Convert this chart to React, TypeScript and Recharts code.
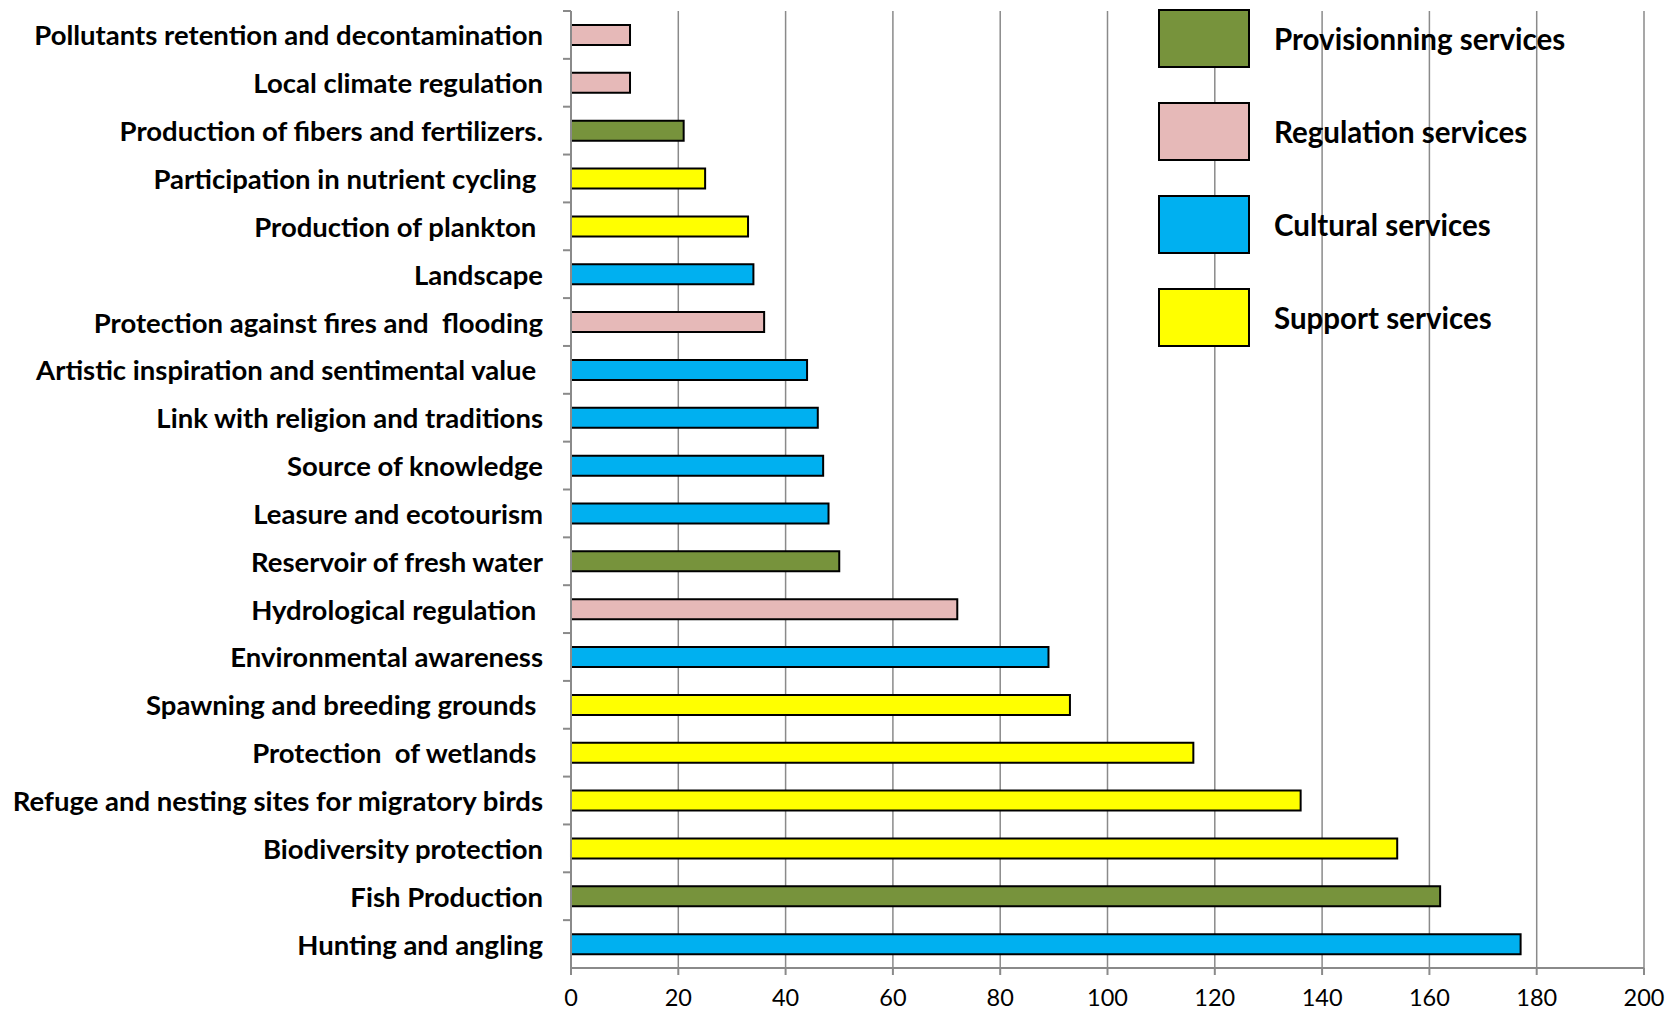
import { BarChart, Bar, XAxis, YAxis, CartesianGrid, Cell } from 'recharts';

const CATEGORIES = [
  'Pollutants retention and decontamination',
  'Local climate regulation',
  'Production of fibers and fertilizers.',
  'Participation in nutrient cycling ',
  'Production of plankton ',
  'Landscape',
  'Protection against fires and  flooding',
  'Artistic inspiration and sentimental value ',
  'Link with religion and traditions',
  'Source of knowledge',
  'Leasure and ecotourism',
  'Reservoir of fresh water',
  'Hydrological regulation ',
  'Environmental awareness',
  'Spawning and breeding grounds ',
  'Protection  of wetlands ',
  'Refuge and nesting sites for migratory birds',
  'Biodiversity protection',
  'Fish Production',
  'Hunting and angling',
];

const VALUES = [11, 11, 21, 25, 33, 34, 36, 44, 46, 47, 48, 50, 72, 89, 93, 116, 136, 154, 162, 177];

// P = provisionning, R = regulation, C = cultural, S = support
const SERVICE_TYPE = ['R', 'R', 'P', 'S', 'S', 'C', 'R', 'C', 'C', 'C', 'C', 'P', 'R', 'C', 'S', 'S', 'S', 'S', 'P', 'C'];

const SERVICE_KEYS = ['P', 'R', 'C', 'S'];
const SERVICE_NAMES = ['Provisionning services', 'Regulation services', 'Cultural services', 'Support services'];

const X_TICKS = [0, 20, 40, 60, 80, 100, 120, 140, 160, 180, 200];

const COLORS: Record<string, string> = {
  P: '#77933C',
  R: '#E6B9B8',
  C: '#00B0F0',
  S: '#FFFF00',
};

const FONT = 'Lato, "Open Sans", sans-serif';
const GRID = '#8a8a8a';

const data = CATEGORIES.map((name, i) => ({ name, value: VALUES[i], type: SERVICE_TYPE[i] }));

function CategoryTick(props: any) {
  const { x, y, payload } = props;
  const half = payload?.offset || 24;
  return (
    <g>
      <line x1={x + 20} x2={x + 28} y1={y - half} y2={y - half} stroke={GRID} strokeWidth={2} />
      <text
        x={x}
        y={y}
        textAnchor="end"
        dominantBaseline="central"
        fontFamily={FONT}
        fontWeight={700}
        fontSize={27.5}
        fill="#000"
        style={{ whiteSpace: 'pre' }}
      >
        {payload.value}
      </text>
    </g>
  );
}

function ServiceLegend() {
  return (
    <div
      style={{
        position: 'absolute',
        left: 1158,
        top: 9,
        display: 'flex',
        flexDirection: 'column',
        gap: 35,
      }}
    >
      {SERVICE_KEYS.map((k, i) => (
        <div key={k} style={{ display: 'flex', alignItems: 'center', height: 58 }}>
          <div
            style={{
              width: 88,
              height: 55,
              background: COLORS[k],
              border: '2px solid #000',
              marginRight: 24,
            }}
          />
          <span style={{ fontFamily: FONT, fontWeight: 700, fontSize: 29.5, color: '#000' }}>
            {SERVICE_NAMES[i]}
          </span>
        </div>
      ))}
    </div>
  );
}

export default function App() {
  return (
    <div style={{ position: 'absolute', left: 0, top: 0, width: 1677, height: 1016, background: '#fff' }}>
      <BarChart
        width={1677}
        height={1016}
        data={data}
        layout="vertical"
        margin={{ top: 11, right: 33, bottom: 0, left: 0 }}
        barCategoryGap={0}
      >
        <CartesianGrid horizontal={false} stroke={GRID} strokeWidth={1.5} />
        <XAxis
          type="number"
          domain={[0, 200]}
          ticks={X_TICKS}
          interval={0}
          height={48}
          axisLine={{ stroke: GRID, strokeWidth: 2 }}
          tickLine={{ stroke: GRID, strokeWidth: 2 }}
          tickSize={7}
          tickMargin={14}
          tick={{ fontFamily: FONT, fontSize: 23.5, fill: '#000' }}
        />
        <YAxis
          type="category"
          dataKey="name"
          width={571}
          interval={0}
          axisLine={{ stroke: GRID, strokeWidth: 2 }}
          tickLine={false}
          tickSize={0}
          tickMargin={28}
          tick={<CategoryTick />}
        />
        <Bar dataKey="value" barSize={20} stroke="#000" strokeWidth={2} isAnimationActive={false}>
          {data.map((d, i) => (
            <Cell key={i} fill={COLORS[d.type]} />
          ))}
        </Bar>
      </BarChart>
      <ServiceLegend />
    </div>
  );
}
